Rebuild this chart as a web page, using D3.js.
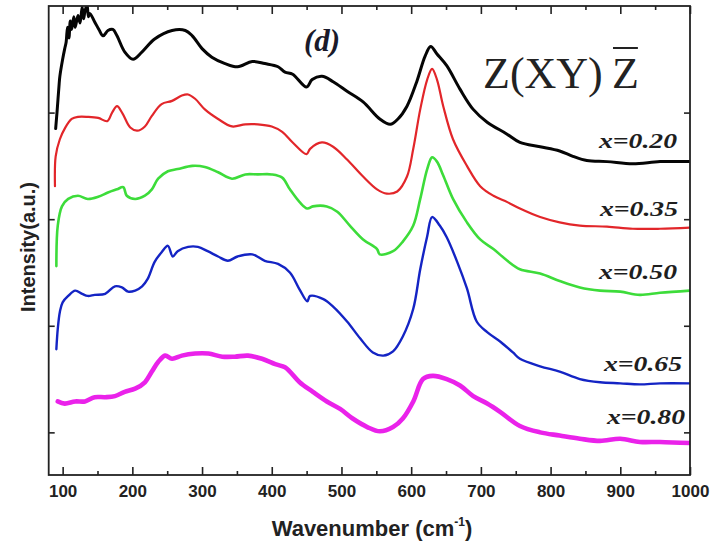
<!DOCTYPE html>
<html>
<head>
<meta charset="utf-8">
<script src="https://cdn.jsdelivr.net/npm/d3@7"></script>
<style>
  body { margin: 0; background: #fff; }
  svg { display: block; }
</style>
</head>
<body>
<svg id="chart" width="714" height="547"></svg>
<script>
// Raman spectra, Z(XY)Z̄ geometry, offset vertically per composition
const majorTicks = [100, 200, 300, 400, 500, 600, 700, 800, 900, 1000];
const minorTicks = [150, 250, 350, 450, 550, 650, 750, 850, 950];
const intensityTicks = [0, 100, 200, 300];
const seriesLabels = ["x=0.20", "x=0.35", "x=0.50", "x=0.65", "x=0.80"];
const seriesColors = ["#050505", "#e2262a", "#3ddc3a", "#1424c4", "#ea22ea"];

// [wavenumber (cm-1), intensity (a.u., offset)]
const x020 = [[90,285],[92,301],[95,327],[96,334],[100,350],[103,360],[105,366],[107,380],[109,370],[111,386],[113,378],[116,390],[118,380],[122,391],[125,384],[128,399],[130,388],[132,395],[135,401],[137,390],[139,393],[146,385],[152,378],[158,372],[165,377],[172,378],[178,372],[189,357],[201,350],[214,357],[232,369],[257,377],[276,377],[286,372],[300,360],[314,352],[333,346],[351,343],[372,348],[390,346],[409,343],[419,338],[430,336],[450,324],[458,331],[472,334],[488,329],[508,320],[531,310],[555,294],[570,289],[581,294],[594,306],[608,329],[620,353],[628,362],[637,355],[651,344],[670,322],[689,303],[709,291],[737,280],[756,272],[785,268],[813,264],[832,259],[852,255],[881,254],[918,252],[957,254],[1000,254]];
const x035 = [[89,231],[90,259],[96,275],[103,285],[113,294],[122,296],[136,296],[151,295],[164,292],[171,300],[178,306],[186,299],[197,286],[207,283],[218,287],[228,297],[242,308],[257,311],[271,316],[280,317],[290,313],[304,303],[323,294],[343,287],[362,289],[380,289],[400,287],[415,282],[430,272],[450,261],[455,266],[472,272],[488,268],[508,256],[531,240],[551,228],[565,224],[580,226],[594,240],[603,266],[613,303],[623,331],[630,341],[637,331],[646,306],[660,275],[680,250],[699,231],[718,222],[738,216],[756,210],[785,202],[813,197],[842,194],[881,193],[918,191],[957,191],[1000,192]];
const x050 = [[91,156],[93,194],[99,212],[108,219],[122,222],[136,219],[151,221],[165,225],[178,228],[187,230],[192,222],[204,219],[218,222],[228,228],[237,238],[251,245],[265,247],[286,250],[304,249],[323,244],[343,238],[362,242],[380,242],[400,242],[415,239],[426,228],[440,216],[451,210],[459,212],[479,212],[494,207],[512,194],[531,181],[551,172],[555,167],[574,170],[588,179],[603,194],[613,219],[623,247],[630,258],[637,254],[646,241],[660,219],[680,197],[699,181],[718,172],[738,161],[756,153],[785,149],[813,142],[842,136],[871,133],[900,132],[928,129],[957,131],[1000,133]];
const x065 = [[91,78],[93,97],[96,113],[100,122],[108,128],[118,133],[128,130],[136,128],[146,129],[161,130],[175,137],[185,136],[194,132],[204,133],[214,137],[222,144],[232,160],[242,169],[251,175],[258,165],[265,170],[280,174],[294,174],[308,170],[323,165],[337,161],[351,165],[372,167],[390,161],[409,158],[426,150],[440,134],[451,123],[455,128],[474,125],[488,118],[508,104],[527,88],[545,75],[560,72],[574,76],[588,90],[603,116],[613,153],[623,184],[630,202],[641,194],[651,183],[666,160],[680,135],[694,104],[709,94],[728,85],[746,75],[756,69],[785,62],[813,57],[842,50],[871,47],[900,46],[928,45],[957,46],[1000,46]];
const x080 = [[93,29],[103,27],[118,29],[132,29],[146,33],[161,33],[175,34],[189,38],[204,41],[218,47],[228,57],[237,66],[247,72],[257,69],[271,72],[290,74],[309,74],[329,71],[347,71],[366,72],[386,69],[405,64],[419,61],[426,57],[440,47],[459,38],[479,29],[498,22],[516,13],[537,5],[555,1],[574,5],[588,13],[603,29],[617,50],[631,53],[651,50],[670,44],[689,34],[709,27],[728,19],[756,6],[785,0],[813,-3],[842,-6],[871,-8],[900,-6],[928,-9],[957,-9],[1000,-10]];

const spectra = [x020, x035, x050, x065, x080];
const strokeWidths = [3, 2.2, 2.6, 2.4, 4.6];

const svg = d3.select("#chart");
const plot = { left: 48.7, right: 690, top: 6, bottom: 475 };

const x = d3.scaleLinear().domain([80, 1000]).range([plot.left, plot.right]);
const y = d3.scaleLinear().domain([-40, 400]).range([plot.bottom, plot.top]);

const sans = "'Liberation Sans', Arial, sans-serif";
const serif = "'Liberation Serif', 'Times New Roman', serif";

// spectra
const line = d3.line()
  .curve(d3.curveCatmullRom.alpha(0.5))
  .x(d => x(d[0])).y(d => y(d[1]));
svg.append("clipPath").attr("id", "plotclip")
  .append("rect").attr("x", plot.left).attr("y", plot.top)
  .attr("width", plot.right - plot.left).attr("height", plot.bottom - plot.top);

const curves = svg.append("g").attr("clip-path", "url(#plotclip)");
spectra.forEach((s, i) => {
  curves.append("path")
    .datum(s)
    .attr("d", line)
    .attr("fill", "none")
    .attr("stroke", seriesColors[i])
    .attr("stroke-width", strokeWidths[i])
    .attr("stroke-linejoin", "round")
    .attr("stroke-linecap", "round");
});

// axes with inward ticks
function styleAxis(g) {
  g.select(".domain").remove();
  g.selectAll(".tick line").attr("stroke", "#222").attr("stroke-width", 1.6);
}
svg.append("g").attr("transform", `translate(0,${plot.bottom})`)
  .call(d3.axisBottom(x).tickValues(majorTicks).tickSize(-8).tickPadding(10).tickFormat(d3.format("d")))
  .call(styleAxis)
  .call(g => g.selectAll("text").attr("font-family", sans).attr("font-weight", "bold")
    .attr("font-size", 17).attr("fill", "#222"));
svg.append("g").attr("transform", `translate(0,${plot.bottom})`)
  .call(d3.axisBottom(x).tickValues(minorTicks).tickSize(-4).tickFormat(""))
  .call(styleAxis);
svg.append("g").attr("transform", `translate(0,${plot.top})`)
  .call(d3.axisTop(x).tickValues(majorTicks).tickSize(-8).tickFormat(""))
  .call(styleAxis);
svg.append("g").attr("transform", `translate(0,${plot.top})`)
  .call(d3.axisTop(x).tickValues(minorTicks).tickSize(-4).tickFormat(""))
  .call(styleAxis);
svg.append("g").attr("transform", `translate(${plot.left},0)`)
  .call(d3.axisLeft(y).tickValues(intensityTicks).tickSize(-6).tickFormat(""))
  .call(styleAxis);
svg.append("g").attr("transform", `translate(${plot.right},0)`)
  .call(d3.axisRight(y).tickValues(intensityTicks).tickSize(-6).tickFormat(""))
  .call(styleAxis);

// frame
svg.append("rect")
  .attr("x", plot.left).attr("y", plot.top)
  .attr("width", plot.right - plot.left).attr("height", plot.bottom - plot.top)
  .attr("fill", "none").attr("stroke", "#222").attr("stroke-width", 1.8);

// axis titles
const xTitle = svg.append("text")
  .attr("x", 372).attr("y", 536)
  .attr("text-anchor", "middle")
  .attr("font-family", sans).attr("font-weight", "bold").attr("font-size", 22)
  .attr("fill", "#222");
xTitle.append("tspan").text("Wavenumber (cm");
xTitle.append("tspan").attr("dy", -10).attr("font-size", 12).text("-1");
xTitle.append("tspan").attr("dy", 10).text(")");

svg.append("text")
  .attr("transform", "translate(35,247) rotate(-90)")
  .attr("text-anchor", "middle")
  .attr("font-family", sans).attr("font-weight", "bold").attr("font-size", 20)
  .attr("fill", "#222")
  .text("Intensity(a.u.)");

// panel tag
svg.append("text")
  .attr("x", 304).attr("y", 51)
  .attr("font-family", serif).attr("font-weight", "bold").attr("font-style", "italic")
  .attr("font-size", 31).attr("fill", "#1a1a2a")
  .text("(d)");

// scattering geometry
svg.append("text")
  .attr("x", 483).attr("y", 88)
  .attr("font-family", serif).attr("font-size", 44).attr("fill", "#222")
  .text("Z(XY)");
const zbar = svg.append("text")
  .attr("x", 612).attr("y", 88)
  .attr("font-family", serif).attr("font-size", 44).attr("fill", "#222")
  .text("Z");
const zb = zbar.node().getBBox();
svg.append("line")
  .attr("x1", zb.x + 1).attr("x2", zb.x + zb.width - 1)
  .attr("y1", 48).attr("y2", 48)
  .attr("stroke", "#222").attr("stroke-width", 2);

// composition labels
const labelBaselines = [148, 216, 279, 371, 424];
const labelRight = [677, 678, 677, 682, 685];
seriesLabels.forEach((t, i) => {
  svg.append("text")
    .attr("x", labelRight[i] - 78).attr("y", labelBaselines[i])
    .attr("textLength", 78).attr("lengthAdjust", "spacingAndGlyphs")
    .attr("font-family", serif).attr("font-weight", "bold").attr("font-style", "italic")
    .attr("font-size", 21).attr("fill", "#1e1e1e")
    .text(t);
});
</script>
</body>
</html>
